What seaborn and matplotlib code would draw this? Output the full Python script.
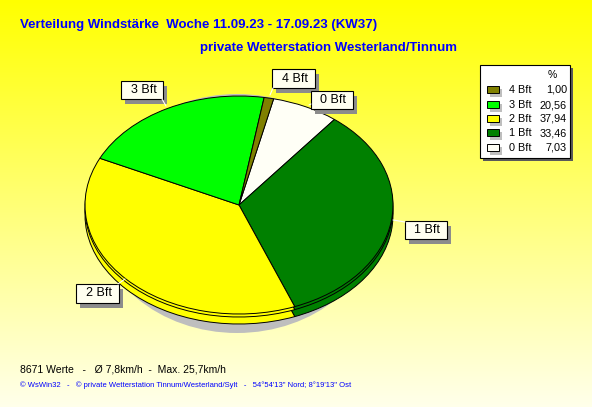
import numpy as np
import pandas as pd
import seaborn as sns
import matplotlib
matplotlib.use("Agg")
import matplotlib.pyplot as plt
from matplotlib.patches import Rectangle, Ellipse

# ---- data ----
categories = ['4 Bft', '3 Bft', '2 Bft', '1 Bft', '0 Bft']
percents = [1.00, 20.56, 37.94, 33.46, 7.03]
value_labels = ['1,00', '20,56', '37,94', '33,46', '7,03']
colors = ['#808000', '#00FF00', '#FFFF00', '#008000', '#FFFFF6']
title1 = 'Verteilung Windstärke  Woche 11.09.23 - 17.09.23 (KW37)'
title2 = 'private Wetterstation Westerland/Tinnum'
footer1 = "8671 Werte   -   Ø 7,8km/h  -  Max. 25,7km/h"
footer2 = "© WsWin32   -   © private Wetterstation Tinnum/Westerland/Sylt   -   54°54'13'' Nord; 8°19'13'' Ost"

df = pd.DataFrame({'cat': categories, 'pct': percents, 'val': value_labels, 'color': colors})

sns.set_theme(style='white')
plt.rcParams['font.family'] = ['Liberation Sans', 'DejaVu Sans']

W, H = 592, 407
fig = plt.figure(figsize=(W / 100, H / 100), dpi=100)

def fx(x):
    return x / W

def fy(y):
    return 1 - y / H

# background gradient
bg = fig.add_axes([0, 0, 1, 1])
bg.set_axis_off()
n = 256
t = np.linspace(0, 1, n)[:, None]
grad = np.zeros((n, 2, 3))
grad[..., 0] = 1.0
grad[..., 1] = 1.0
grad[..., 2] = (t * 0.92) * np.ones((1, 2))
bg.imshow(grad, aspect='auto', extent=[0, 1, 0, 1], origin='upper')
bg.set_xlim(0, 1)
bg.set_ylim(0, 1)

# pie axes (pixel geometry)
cx, cy, rx, ry = 239, 205, 154, 109
left, right, top, bottom = 60, 416, 70, 345
ax = fig.add_axes([fx(left), fy(bottom), (right - left) / W, (bottom - top) / H])
ax.set_axis_off()

order = df.iloc[::-1]  # 0 Bft first, clockwise
depth = 10 / ry
# shadow
ax.add_patch(Ellipse((-2 / rx, -8.5 / ry), 2 * 142 / rx, 2 * 119.5 / ry,
                     facecolor='#BEBEBE', edgecolor='none', zorder=0))
wp = dict(edgecolor='black', linewidth=0.7)
ax.pie(order['pct'], colors=order['color'], startangle=77, counterclock=False,
       center=(0, -depth), radius=1.0, wedgeprops=wp, frame=False)
ax.pie(order['pct'], colors=order['color'], startangle=77, counterclock=False,
       center=(0, -depth * 0.3), radius=1.0, wedgeprops=wp, frame=False)
ax.pie(order['pct'], colors=order['color'], startangle=77, counterclock=False,
       center=(0, 0), radius=1.0, wedgeprops=wp, frame=False)
ax.set_xlim((left - cx) / rx, (right - cx) / rx)
ax.set_ylim((cy - bottom) / ry, (cy - top) / ry)
ax.set_aspect('auto')

# slice label boxes (x0, y0, x1, y1 in pixels) and leader lines
label_box = {'3 Bft': (121, 81, 163, 99), '4 Bft': (272, 69, 315, 88),
             '0 Bft': (311, 91, 353, 109), '1 Bft': (405, 221, 447, 239),
             '2 Bft': (76, 284, 119, 303)}
leader = {'3 Bft': [(162, 99), (166, 106)], '4 Bft': [(273, 88), (270, 95)],
          '0 Bft': [(311, 104), (309, 105)], '1 Bft': [(405, 222), (393, 220)],
          '2 Bft': [(118, 284), (125, 279)]}
for cat in categories:
    (x0, y0), (x1, y1) = leader[cat]
    fig.add_artist(plt.Line2D([fx(x0), fx(x1)], [fy(y0), fy(y1)], color='white', lw=0.8,
                              transform=fig.transFigure))
for cat, (x0, y0, x1, y1) in label_box.items():
    w, h = x1 - x0, y1 - y0
    fig.add_artist(Rectangle((fx(x0 + 4), fy(y1 + 5)), w / W, h / H,
                             facecolor='#8C8C8C', edgecolor='none', transform=fig.transFigure))
    fig.add_artist(Rectangle((fx(x0), fy(y1)), w / W, h / H,
                             facecolor='#FFFFF0', edgecolor='black', lw=0.8, transform=fig.transFigure))
    fig.text(fx((x0 + x1) / 2 + 1.5), fy((y0 + y1) / 2), cat, ha='center', va='center',
             fontsize=9, color='black')

# titles
fig.text(fx(20), fy(25), title1, ha='left', va='center', fontsize=9.5, fontweight='bold',
         color='#0000FF')
fig.text(fx(200), fy(48), title2, ha='left', va='center', fontsize=9.5, fontweight='bold',
         color='#0000FF')

# legend box
lx0, ly0, lx1, ly1 = 480, 65, 570, 158
fig.add_artist(Rectangle((fx(lx0 + 3), fy(ly1 + 3)), (lx1 - lx0) / W, (ly1 - ly0) / H,
                         facecolor='#5A5A5A', edgecolor='none', transform=fig.transFigure))
fig.add_artist(Rectangle((fx(lx0), fy(ly1)), (lx1 - lx0) / W, (ly1 - ly0) / H,
                         facecolor='white', edgecolor='black', lw=0.8, transform=fig.transFigure))
fig.text(fx(552), fy(75), '%', ha='center', va='center', fontsize=7.5, color='black')
row_y = [90, 105, 119, 133, 148]
for i, row in df.iterrows():
    y = row_y[i]
    fig.add_artist(Rectangle((fx(490), fy(y + 7)), 12 / W, 8 / H,
                             facecolor='#BEBEBE', edgecolor='none', transform=fig.transFigure))
    fig.add_artist(Rectangle((fx(487), fy(y + 3)), 12 / W, 7 / H,
                             facecolor=row['color'], edgecolor='black', lw=0.7, transform=fig.transFigure))
    fig.text(fx(509), fy(y), row['cat'], ha='left', va='center', fontsize=7.8, color='black')
    fig.text(fx(567), fy(y), row['val'], ha='right', va='center', fontsize=7.8, color='black')

# footers
fig.text(fx(20), fy(370), footer1, ha='left', va='center', fontsize=7.5, color='black')
fig.text(fx(20), fy(385), footer2, ha='left', va='center', fontsize=5.5, color='#0000FF')

fig.savefig('out.png', dpi=100)
